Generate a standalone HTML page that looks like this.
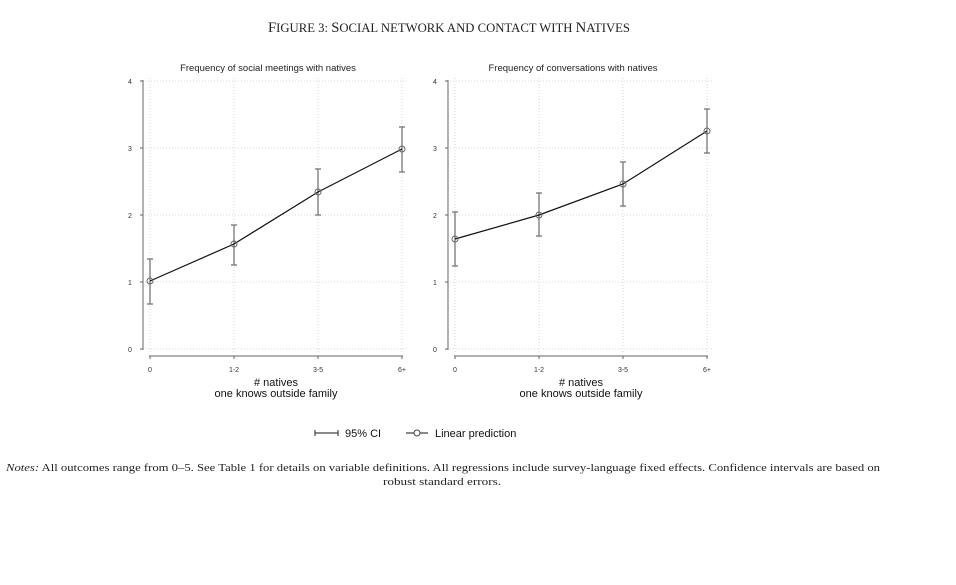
<!DOCTYPE html>
<html><head><meta charset="utf-8"><style>
body{margin:0;background:#fff;width:956px;height:585px;overflow:hidden}
svg{display:block}
</style></head><body>
<svg width="956" height="585" xmlns="http://www.w3.org/2000/svg" font-family="Liberation Sans, sans-serif">
<text x="449" y="32" text-anchor="middle" textLength="362" lengthAdjust="spacingAndGlyphs" font-family="Liberation Serif, serif" font-size="13" fill="#222"><tspan font-size="15">F</tspan>IGURE 3: <tspan font-size="15">S</tspan>OCIAL NETWORK AND CONTACT WITH <tspan font-size="15">N</tspan>ATIVES</text>
<g id="p1">
<text x="268" y="71" text-anchor="middle" font-size="9.5" fill="#222">Frequency of social meetings with natives</text>
<g stroke="#ccc" stroke-dasharray="1,2" stroke-width="0.8">
<line x1="145" x2="408" y1="81" y2="81"/><line x1="145" x2="408" y1="148" y2="148"/><line x1="145" x2="408" y1="215" y2="215"/><line x1="145" x2="408" y1="282" y2="282"/><line x1="145" x2="408" y1="349" y2="349"/>
<line x1="150" x2="150" y1="78" y2="352"/><line x1="234" x2="234" y1="78" y2="352"/><line x1="318" x2="318" y1="78" y2="352"/><line x1="402" x2="402" y1="78" y2="352"/>
</g>
<g stroke="#666" stroke-width="1">
<line x1="143" x2="143" y1="80" y2="350"/><line x1="140" x2="143" y1="81" y2="81"/><line x1="140" x2="143" y1="148" y2="148"/><line x1="140" x2="143" y1="215" y2="215"/><line x1="140" x2="143" y1="282" y2="282"/><line x1="140" x2="143" y1="349" y2="349"/>
<line x1="149" x2="403" y1="356" y2="356"/><line x1="150" x2="150" y1="356" y2="359"/><line x1="234" x2="234" y1="356" y2="359"/><line x1="318" x2="318" y1="356" y2="359"/><line x1="402" x2="402" y1="356" y2="359"/>
</g>
<g font-size="7" fill="#333" text-anchor="middle">
<text x="130" y="84">4</text><text x="130" y="151">3</text><text x="130" y="218">2</text><text x="130" y="285">1</text><text x="130" y="352">0</text>
<text x="150" y="372">0</text><text x="234" y="372">1-2</text><text x="318" y="372">3-5</text><text x="402" y="372">6+</text>
</g>
<text x="276" y="386" text-anchor="middle" font-size="11" fill="#111">#  natives</text>
<text x="276" y="397" text-anchor="middle" font-size="11" fill="#111">one knows outside family</text>
<g stroke="#777" stroke-width="1.3">
<line x1="150" x2="150" y1="259" y2="304"/><line x1="147" x2="153" y1="259" y2="259"/><line x1="147" x2="153" y1="304" y2="304"/>
<line x1="234" x2="234" y1="225" y2="265"/><line x1="231" x2="237" y1="225" y2="225"/><line x1="231" x2="237" y1="265" y2="265"/>
<line x1="318" x2="318" y1="169" y2="215"/><line x1="315" x2="321" y1="169" y2="169"/><line x1="315" x2="321" y1="215" y2="215"/>
<line x1="402" x2="402" y1="127" y2="172"/><line x1="399" x2="405" y1="127" y2="127"/><line x1="399" x2="405" y1="172" y2="172"/>
</g>
<polyline points="150,281 234,244 318,192 402,149" fill="none" stroke="#111" stroke-width="1.2"/>
<g fill="none" stroke="#666" stroke-width="1"><circle cx="150" cy="281" r="3"/><circle cx="234" cy="244" r="3"/><circle cx="318" cy="192" r="3"/><circle cx="402" cy="149" r="3"/></g>
</g>
<g id="p2" transform="translate(305,0)">
<text x="268" y="71" text-anchor="middle" font-size="9.5" fill="#222">Frequency of conversations with natives</text>
<g stroke="#ccc" stroke-dasharray="1,2" stroke-width="0.8">
<line x1="145" x2="408" y1="81" y2="81"/><line x1="145" x2="408" y1="148" y2="148"/><line x1="145" x2="408" y1="215" y2="215"/><line x1="145" x2="408" y1="282" y2="282"/><line x1="145" x2="408" y1="349" y2="349"/>
<line x1="150" x2="150" y1="78" y2="352"/><line x1="234" x2="234" y1="78" y2="352"/><line x1="318" x2="318" y1="78" y2="352"/><line x1="402" x2="402" y1="78" y2="352"/>
</g>
<g stroke="#666" stroke-width="1">
<line x1="143" x2="143" y1="80" y2="350"/><line x1="140" x2="143" y1="81" y2="81"/><line x1="140" x2="143" y1="148" y2="148"/><line x1="140" x2="143" y1="215" y2="215"/><line x1="140" x2="143" y1="282" y2="282"/><line x1="140" x2="143" y1="349" y2="349"/>
<line x1="149" x2="403" y1="356" y2="356"/><line x1="150" x2="150" y1="356" y2="359"/><line x1="234" x2="234" y1="356" y2="359"/><line x1="318" x2="318" y1="356" y2="359"/><line x1="402" x2="402" y1="356" y2="359"/>
</g>
<g font-size="7" fill="#333" text-anchor="middle">
<text x="130" y="84">4</text><text x="130" y="151">3</text><text x="130" y="218">2</text><text x="130" y="285">1</text><text x="130" y="352">0</text>
<text x="150" y="372">0</text><text x="234" y="372">1-2</text><text x="318" y="372">3-5</text><text x="402" y="372">6+</text>
</g>
<text x="276" y="386" text-anchor="middle" font-size="11" fill="#111">#  natives</text>
<text x="276" y="397" text-anchor="middle" font-size="11" fill="#111">one knows outside family</text>
<g stroke="#777" stroke-width="1.3">
<line x1="150" x2="150" y1="212" y2="266"/><line x1="147" x2="153" y1="212" y2="212"/><line x1="147" x2="153" y1="266" y2="266"/>
<line x1="234" x2="234" y1="193" y2="236"/><line x1="231" x2="237" y1="193" y2="193"/><line x1="231" x2="237" y1="236" y2="236"/>
<line x1="318" x2="318" y1="162" y2="206"/><line x1="315" x2="321" y1="162" y2="162"/><line x1="315" x2="321" y1="206" y2="206"/>
<line x1="402" x2="402" y1="109" y2="153"/><line x1="399" x2="405" y1="109" y2="109"/><line x1="399" x2="405" y1="153" y2="153"/>
</g>
<polyline points="150,239 234,215 318,184 402,131" fill="none" stroke="#111" stroke-width="1.2"/>
<g fill="none" stroke="#666" stroke-width="1"><circle cx="150" cy="239" r="3"/><circle cx="234" cy="215" r="3"/><circle cx="318" cy="184" r="3"/><circle cx="402" cy="131" r="3"/></g>
</g>
<g stroke="#444" stroke-width="1.2"><line x1="315" x2="338" y1="433" y2="433"/><line x1="315" x2="315" y1="430" y2="436"/><line x1="338" x2="338" y1="430" y2="436"/>
<line x1="406" x2="428" y1="433" y2="433"/></g>
<circle cx="417" cy="433" r="3" fill="#fff" stroke="#444"/>
<text x="345" y="437" font-size="11" fill="#111">95% CI</text>
<text x="435" y="437" font-size="11" fill="#111">Linear prediction</text>
<text x="6" y="471" textLength="874" lengthAdjust="spacingAndGlyphs" font-family="Liberation Serif, serif" font-size="11" fill="#222"><tspan font-style="italic">Notes:</tspan> All outcomes range from 0–5. See Table 1 for details on variable definitions. All regressions include survey-language fixed effects. Confidence intervals are based on</text>
<text x="442" y="485" text-anchor="middle" textLength="118" lengthAdjust="spacingAndGlyphs" font-family="Liberation Serif, serif" font-size="11" fill="#222">robust standard errors.</text>
</svg>
</body></html>
